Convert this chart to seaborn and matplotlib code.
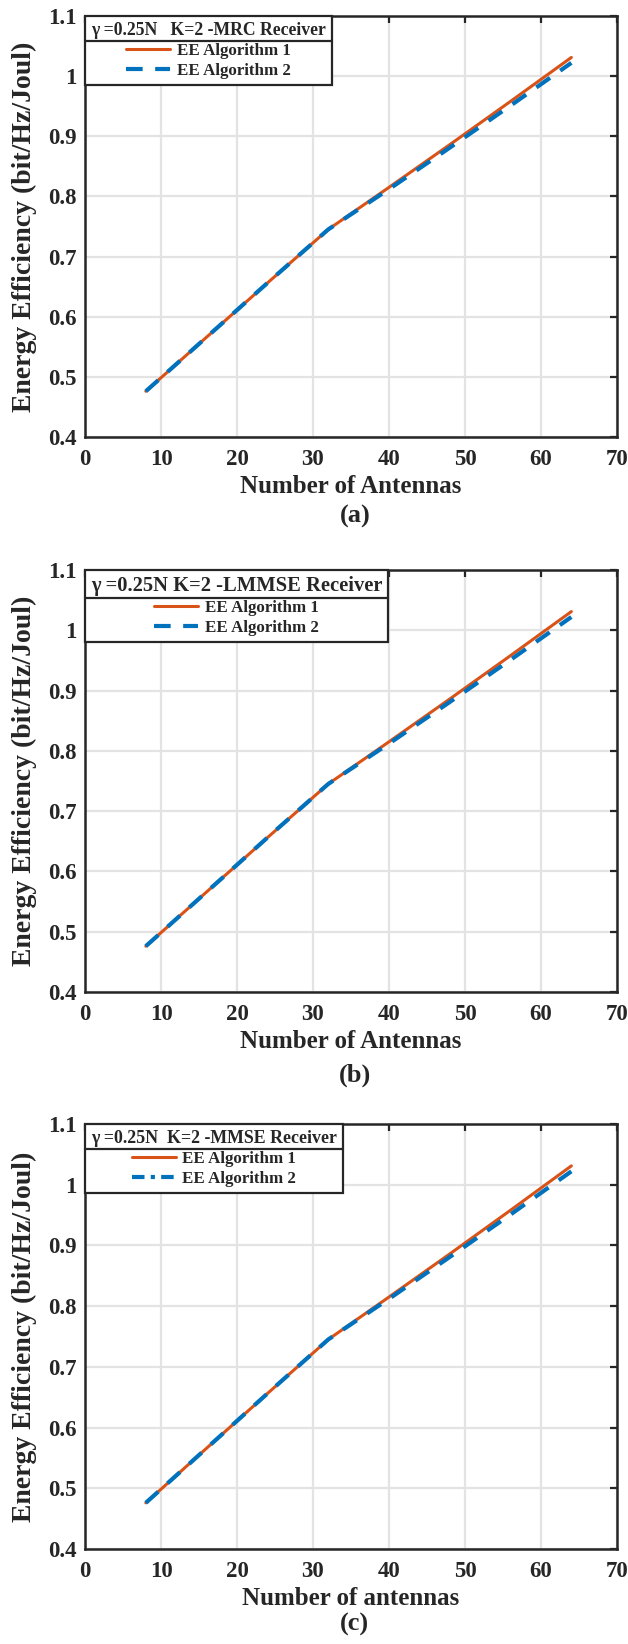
import numpy as np
import pandas as pd
import matplotlib
matplotlib.use("Agg")
import matplotlib.pyplot as plt
import seaborn as sns
from matplotlib.lines import Line2D

# Data
antennas = [8, 16, 24, 32, 40, 48, 56, 64]
ee_alg1 = [0.476, 0.566, 0.656, 0.745, 0.815, 0.886, 0.958, 1.031]
ee_alg2 = [0.476, 0.566, 0.656, 0.745, 0.812, 0.881, 0.951, 1.022]

legend_titles = ["γ =0.25N   K=2 -MRC Receiver",
                 "γ =0.25N K=2 -LMMSE Receiver",
                 "γ =0.25N  K=2 -MMSE Receiver"]
title_sizes = [12.7, 14.8, 12.9]
xlabels = ["Number of Antennas", "Number of Antennas", "Number of antennas"]
captions = ["(a)", "(b)", "(c)"]
series_names = ["EE Algorithm 1", "EE Algorithm 2"]

sns.set_style("whitegrid")
plt.rcParams["font.family"] = ["Liberation Serif", "DejaVu Serif"]
plt.rcParams["font.weight"] = "bold"

orange = "#D95319"
blue = "#0072BD"
dark = "#262626"

fig = plt.figure(figsize=(6.28, 16.44), dpi=100)

positions = [
    [0.1354, 0.7342, 0.847, 0.2561],
    [0.1354, 0.3966, 0.847, 0.2567],
    [0.1354, 0.0578, 0.847, 0.2585],
]
caption_y = [0.686, 0.346, 0.0116]

legends = []
for i in range(3):
    ax = fig.add_axes(positions[i])

    sns.lineplot(x=antennas, y=ee_alg1, ax=ax, color=orange, linewidth=2.2,
                 label=series_names[0])
    sns.lineplot(x=antennas, y=ee_alg2, ax=ax, color=blue, linewidth=3.0,
                 linestyle=(0, (4, 3)), label=series_names[1])

    ax.set_xlim(0, 70)
    ax.set_ylim(0.4, 1.1)
    ax.set_xticks(range(0, 71, 10))
    ax.set_yticks(np.round(np.arange(0.4, 1.11, 0.1), 1))
    ax.set_yticklabels(["0.4", "0.5", "0.6", "0.7", "0.8", "0.9", "1", "1.1"])

    ax.grid(True, color="#e3e3e3", linewidth=1.6)
    for s in ax.spines.values():
        s.set_color(dark)
        s.set_linewidth(1.8)
    ax.tick_params(direction="in", length=5, width=1.6, colors=dark,
                   top=True, right=True, labelsize=16.5, pad=6)
    ax.tick_params(axis="x", pad=9)
    for lab in ax.get_xticklabels() + ax.get_yticklabels():
        lab.set_fontweight("bold")

    ax.set_xlabel(xlabels[i], fontsize=18, fontweight="bold", labelpad=3)
    ax.set_ylabel("Energy Efficiency (bit/Hz/Joul)", fontsize=20,
                  fontweight="bold", labelpad=8)

    handles = [Line2D([], [], color=orange, linewidth=2.2),
               Line2D([], [], color=blue, linewidth=3.0,
                      linestyle=(0, (4, 3)) if i < 2 else (0, (3, 1.5, 1, 1.5)))]
    leg = ax.legend(handles, series_names, loc="upper left",
                    bbox_to_anchor=(0, 1), borderaxespad=0,
                    title=legend_titles[i], fancybox=False, framealpha=1,
                    edgecolor=dark, prop={"weight": "bold", "size": 12.2},
                    title_fontproperties={"weight": "bold",
                                          "size": title_sizes[i]},
                    alignment="center", handlelength=2.6, handletextpad=0.4,
                    labelspacing=0.25, borderpad=0.35)
    leg.get_frame().set_linewidth(1.6)
    legends.append((ax, leg))

    fig.text(0.565, caption_y[i], captions[i], ha="center", va="center",
             fontsize=19, fontweight="bold")

# separator line between the legend title and its entries
fig.canvas.draw()
renderer = fig.canvas.get_renderer()
for ax, leg in legends:
    fb = leg.get_frame().get_window_extent(renderer)
    tb = leg.get_title().get_window_extent(renderer)
    y = tb.y0 - 2
    inv = fig.transFigure.inverted()
    (x0, yf), (x1, _) = inv.transform([(fb.x0, y), (fb.x1, y)])
    fig.add_artist(Line2D([x0, x1], [yf, yf], transform=fig.transFigure,
                          color=dark, linewidth=1.6))

fig.savefig("out.png", dpi=100)
